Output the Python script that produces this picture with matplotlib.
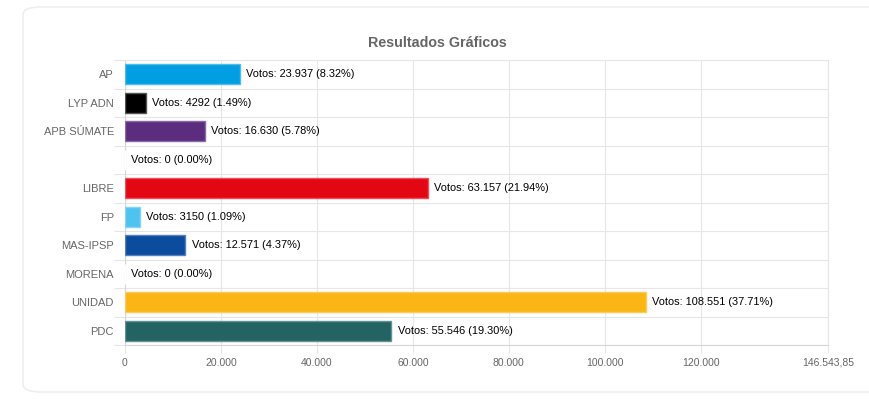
import matplotlib.pyplot as plt
from matplotlib.patches import FancyBboxPatch

plt.rcParams['font.family'] = ['Liberation Sans', 'DejaVu Sans']

partidos = ['AP', 'LYP ADN', 'APB SÚMATE', '', 'LIBRE', 'FP', 'MAS-IPSP', 'MORENA', 'UNIDAD', 'PDC']
votos = [23937, 4292, 16630, 0, 63157, 3150, 12571, 0, 108551, 55546]
porcentajes = [8.32, 1.49, 5.78, 0.00, 21.94, 1.09, 4.37, 0.00, 37.71, 19.30]
colores = ['#009FE3', '#000000', '#5C2D7E', '#FFFFFF', '#E30613', '#4FC3F0', '#0B4C9F', '#FFFFFF',
           '#FBB615', '#236363']
bordes = ['#4DBBEB', '#555555', '#8A6AA4', '#FFFFFF', '#EE5058', '#84D5F5', '#5481BC', '#FFFFFF',
          '#FCCB5A', '#659292']
x_max = 146543.85
x_ticks = [0, 20000, 40000, 60000, 80000, 100000, 120000, x_max]
x_ticklabels = ['0', '20.000', '40.000', '60.000', '80.000', '100.000', '120.000', '146.543,85']


def fmt_votos(v):
    # es locale: no separator under 10.000
    if v < 10000:
        return str(v)
    return '{:,}'.format(v).replace(',', '.')


fig = plt.figure(figsize=(8.7, 3.99), dpi=100)

# card background
card = FancyBboxPatch((23 / 870, 7 / 399), 900 / 870, 385 / 399,
                      boxstyle='round,pad=0,rounding_size=0.02', transform=fig.transFigure,
                      facecolor='white', edgecolor='#ececec', linewidth=1.0, zorder=-10)
fig.patches.append(card)

ax = fig.add_axes([125 / 870, 1 - 345 / 399, 703 / 870, 285 / 399])
ax.set_facecolor('none')
ax.set_zorder(1)

y = list(range(len(partidos)))
ax.barh(y, votos, height=0.7, color=colores, edgecolor=bordes, linewidth=1.0, zorder=3)

for i, (v, p) in enumerate(zip(votos, porcentajes)):
    ax.annotate('Votos: {} ({:.2f}%)'.format(fmt_votos(v), p), xy=(v, i), xytext=(4.5, 0),
                textcoords='offset points', va='center', ha='left', fontsize=7.9, color='#000000', zorder=4)

ax.set_xlim(0, x_max)
ax.set_ylim(len(partidos) - 0.5, -0.5)
ax.set_yticks(y)
ax.set_yticklabels(partidos, fontsize=8, color='#666666')
ax.set_yticks([i - 0.5 for i in range(len(partidos) + 1)], minor=True)
ax.set_xticks(x_ticks)
ax.set_xticklabels(x_ticklabels, fontsize=7.5, color='#666666')

ax.grid(True, axis='x', color='#e6e6e6', linewidth=0.8, zorder=0)
ax.grid(True, axis='y', which='minor', color='#e6e6e6', linewidth=0.8, zorder=0)
ax.tick_params(axis='y', which='major', length=0, pad=8)
ax.tick_params(axis='y', which='minor', length=8, color='#e6e6e6', width=0.8)
ax.tick_params(axis='x', length=6, color='#e6e6e6', width=0.8, pad=3)

for s in ['top', 'right']:
    ax.spines[s].set_color('#e6e6e6')
    ax.spines[s].set_linewidth(0.8)
for s in ['left', 'bottom']:
    ax.spines[s].set_color('#d6d6d6')
    ax.spines[s].set_linewidth(0.8)

fig.text(437 / 870, 1 - 43 / 399, 'Resultados Gráficos', ha='center', va='center',
         fontsize=10.3, fontweight='bold', color='#666666')

fig.savefig('out.png', dpi=100, facecolor='white')
